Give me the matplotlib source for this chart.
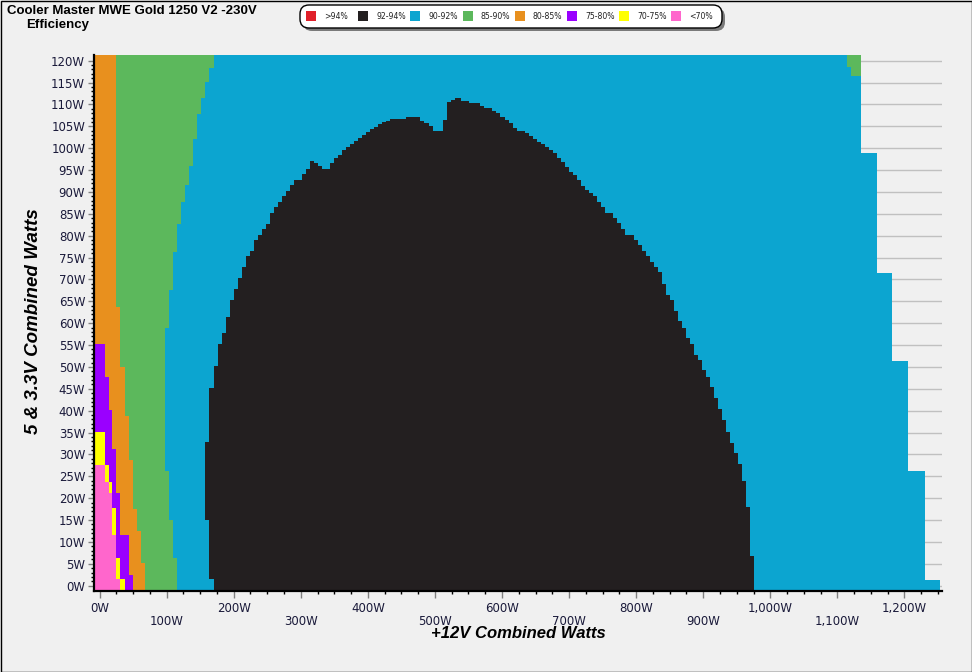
import numpy as np
import matplotlib
matplotlib.use("Agg")
import matplotlib.pyplot as plt
from matplotlib.patches import FancyBboxPatch, Rectangle
from matplotlib.transforms import Affine2D

# zone colours (legend order)
zone_names = [">94%", "92-94%", "90-92%", "85-90%", "80-85%", "75-80%", "70-75%", "<70%"]
zone_colors = ["#e0202a", "#231f20", "#0ca5d0", "#5cb85c", "#e8901e", "#9a00ff", "#ffff00", "#ff66cc"]

# right edge of each zone, step functions over the 5V/3.3V load (W)
blue_y = [-1.2, 1.35, 26.3, 51.4, 71.5, 98.8, 121.3]
blue_x = [1253.6, 1230.2, 1205.9, 1182.1, 1158.7, 1134.8, 1134.8]

green_top_y = [116.5, 118.5, 121.3]
green_top_x0 = [1119.9, 1113.9, 1113.9]
green_top_x1 = [1134.8, 1134.8, 1134.8]

green_y = [-1.2, 6.3, 15.1, 26.3, 59.0, 67.6, 76.3, 82.7, 87.6, 91.6, 95.9, 102.1, 107.8, 111.4, 115.2, 118.3, 121.3]
green_x = [114.8, 108.9, 102.9, 96.9, 102.9, 108.9, 114.8, 120.8, 126.8, 132.7, 138.7, 144.6, 150.6, 156.6, 162.5, 170.0, 170.0]

orange_y = [-1.2, 5.2, 12.6, 17.5, 28.8, 38.8, 50.1, 63.8, 121.3]
orange_x = [67.1, 61.1, 55.2, 49.2, 43.2, 37.3, 30.9, 24.9, 24.9]

purple_y = [-1.2, 2.5, 11.6, 21.3, 31.3, 40.2, 47.6, 55.3]
purple_x = [49.2, 43.2, 30.9, 24.9, 18.9, 13.9, 7.5, 7.5]

yellow_y = [-1.2, 1.5, 6.3, 17.7, 23.8, 27.6, 35.2]
yellow_x = [37.3, 30.9, 24.9, 18.9, 13.9, 7.5, 7.5]

pink_y = [-1.2, 1.5, 11.6, 21.3, 23.8, 27.6]
pink_x = [30.9, 24.9, 18.9, 13.9, 7.5, 7.5]

# 92-94% region, column by column over the +12V load (W)
black_x = [156.6, 162.5, 170.0, 176.0, 181.9, 187.9, 193.9, 199.8, 205.8, 211.8, 217.7, 223.7, 229.6,
           235.6, 241.6, 247.5, 253.5, 259.5, 265.4, 271.4, 277.4, 283.3, 289.3, 301.2, 307.2, 313.2,
           319.1, 325.1, 331.0, 343.0, 348.9, 354.9, 360.9, 366.8, 372.8, 378.8, 384.7, 390.7, 396.7,
           402.6, 408.6, 414.6, 420.5, 426.5, 432.4, 456.3, 477.2, 483.1, 490.6, 496.6, 511.5, 517.4,
           523.4, 529.4, 538.3, 550.3, 566.7, 572.6, 584.6, 590.5, 596.5, 603.9, 609.9, 615.9, 621.8,
           633.8, 639.7, 645.7, 651.7, 657.6, 663.6, 669.5, 675.5, 681.5, 687.4, 693.4, 699.4, 705.3,
           711.3, 717.3, 723.2, 729.2, 735.2, 741.1, 747.1, 753.1, 765.0, 770.9, 776.9, 782.9, 796.3,
           802.3, 808.2, 814.2, 820.2, 826.1, 832.1, 838.1, 844.0, 850.0, 856.0, 861.9, 867.9, 873.9,
           879.8, 885.8, 891.7, 897.7, 903.7, 909.6, 915.6, 921.6, 927.5, 933.5, 939.5, 945.4, 951.4,
           957.4, 963.3, 969.3, 975.2]
black_top = [32.9, 45.3, 50.2, 55.3, 57.8, 61.4, 65.3, 67.8, 70.4, 72.9, 75.4, 76.5, 79.0,
             80.2, 81.5, 82.7, 85.2, 86.6, 87.7, 89.1, 90.2, 91.6, 92.7, 94.1, 95.2, 97.1,
             96.6, 95.9, 95.2, 96.6, 97.8, 98.4, 99.6, 100.3, 101.0, 101.6, 102.3, 103.0, 103.7,
             104.3, 104.9, 105.5, 106.0, 106.3, 106.6, 107.2, 106.3, 105.8, 105.1, 103.9, 106.4, 110.6,
             111.0, 111.5, 110.9, 110.4, 109.6, 109.1, 108.6, 108.0, 107.2, 106.4, 105.7, 104.7, 104.0,
             103.4, 102.8, 102.1, 101.5, 100.9, 100.2, 99.6, 98.8, 97.7, 96.9, 95.8, 94.6, 93.9,
             92.7, 91.4, 90.5, 89.8, 89.1, 87.8, 86.6, 85.3, 84.0, 82.8, 81.5, 80.2, 79.0,
             77.8, 76.6, 75.4, 74.1, 72.9, 71.6, 69.0, 66.5, 65.3, 62.8, 60.4, 59.0, 56.6,
             55.3, 52.8, 51.6, 49.2, 47.8, 45.4, 42.9, 40.3, 37.9, 35.2, 32.7, 30.3, 27.9,
             24.0, 17.9, 6.7, 6.7]
black_bottom_first = [15.1, 1.5]   # the two left-most columns do not reach 0W

X0, X1 = -9, 1256
Y0, Y1 = -1.2, 121.3

W, H = 972, 672
fig = plt.figure(figsize=(9.72, 6.72), dpi=100, facecolor="#f0f0f0")
px = Affine2D().scale(1 / W, -1 / H).translate(0, 1) + fig.transFigure

ax = fig.add_axes([93.5 / W, 1 - 591 / H, (942 - 93.5) / W, (591 - 55) / H])
ax.set_facecolor("#f0f0f0")
ax.set_xlim(X0, X1)
ax.set_ylim(Y0, Y1)

ax.fill_betweenx(blue_y, X0, blue_x, step="post", color=zone_colors[2], lw=0, zorder=2)
ax.fill_betweenx(green_top_y, green_top_x0, green_top_x1, step="post", color=zone_colors[3], lw=0, zorder=3)

black_lo = np.full(len(black_x), Y0)
black_lo[:len(black_bottom_first)] = black_bottom_first
ax.fill_between(black_x, black_lo, black_top, step="post", color=zone_colors[1], lw=0, zorder=3)

for ys, xs, c, z in [(green_y, green_x, zone_colors[3], 4),
                     (orange_y, orange_x, zone_colors[4], 5),
                     (purple_y, purple_x, zone_colors[5], 6),
                     (yellow_y, yellow_x, zone_colors[6], 7),
                     (pink_y, pink_x, zone_colors[7], 8)]:
    ax.fill_betweenx(ys, X0, xs, step="post", color=c, lw=0, zorder=z)

# axes styling
for s in ["top", "right"]:
    ax.spines[s].set_visible(False)
for s in ["left", "bottom"]:
    ax.spines[s].set_linewidth(1.6)
    ax.spines[s].set_color("black")
    ax.spines[s].set_zorder(10)

ax.set_axisbelow(True)
yt = np.arange(0, 121, 5)
ax.set_yticks(yt)
ax.set_yticklabels([f"{v}W" for v in yt])
ax.set_yticks(np.arange(0, 121, 1), minor=True)
xt = np.arange(0, 1201, 100)
ax.set_xticks(xt)
ax.set_xticklabels([])
ax.set_xticks(np.arange(0, 1251, 25), minor=True)
ax.tick_params(axis="both", which="major", color="#808080", width=1, labelsize=8.5,
               labelcolor="#1a1a3a")
ax.tick_params(axis="y", which="major", length=4, pad=2)
ax.tick_params(axis="x", which="major", length=5)
ax.tick_params(axis="both", which="minor", color="black", width=1, length=2.5)
ax.grid(axis="y", which="major", color="#c0c0c0", lw=1)

# staggered x tick labels
for i, v in enumerate(xt):
    ax.annotate(f"{v:,}W", xy=(v, 0), xycoords=("data", "axes fraction"),
                xytext=(0, -11 if i % 2 == 0 else -24), textcoords="offset pixels",
                ha="center", va="top", fontsize=8.5, color="#1a1a3a", annotation_clip=False)

# titles
fig.text(7, 5, "Cooler Master MWE Gold 1250 V2 -230V", transform=px, ha="left", va="top",
         fontsize=9.5, fontweight="bold", family="Liberation Sans")
fig.text(26, 19, "Efficiency", transform=px, ha="left", va="top",
         fontsize=9.5, fontweight="bold", family="Liberation Sans")
fig.text(518, 634, "+12V Combined Watts", transform=px, ha="center", va="center",
         fontsize=12, fontweight="bold", style="italic", family="Liberation Sans")
fig.text(34, 321, "5 & 3.3V Combined Watts", transform=px, ha="center", va="center", rotation=90,
         fontsize=13.5, fontweight="bold", style="italic", family="Liberation Sans")

# legend box
fig.patches.append(FancyBboxPatch((303, 8), 422, 23, boxstyle="round,pad=0,rounding_size=9",
                                  transform=px, fc="#7a7a7a", ec="none"))
fig.patches.append(FancyBboxPatch((300, 5), 422, 23, boxstyle="round,pad=0,rounding_size=9",
                                  transform=px, fc="white", ec="black", lw=1))
for i, (name, c) in enumerate(zip(zone_names, zone_colors)):
    cx = 311 + i * 52.2
    fig.patches.append(Rectangle((cx - 5, 11), 10, 10, transform=px, fc=c, ec="none"))
    fig.text(cx + 13, 16.5, name, transform=px, ha="left", va="center", fontsize=5.6,
             color="#222222")

# outer border
fig.patches.append(Rectangle((0.5, 0.5), W - 1, H - 1, transform=px, fill=False, ec="black", lw=1))

fig.savefig("out.png", dpi=100, facecolor=fig.get_facecolor())
